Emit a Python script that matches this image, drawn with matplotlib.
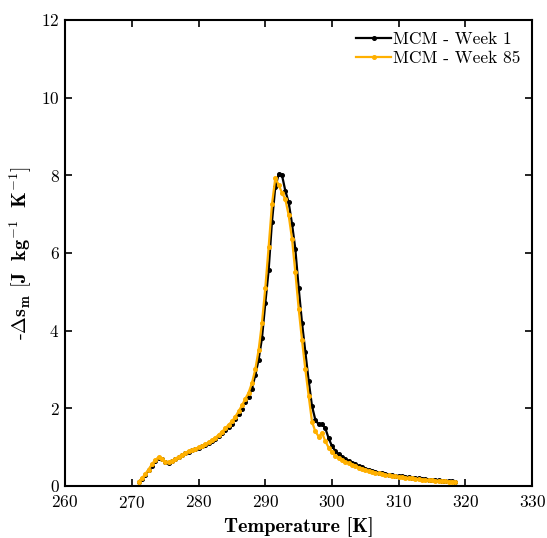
import numpy as np
import matplotlib
matplotlib.use("Agg")
import matplotlib.pyplot as plt

# temperature grid [K]
temperature = [
    271.0, 271.5, 272.0, 272.5, 273.0, 273.5, 274.0, 274.5, 275.0, 275.5,
    276.0, 276.5, 277.0, 277.5, 278.0, 278.5, 279.0, 279.5, 280.0, 280.5,
    281.0, 281.5, 282.0, 282.5, 283.0, 283.5, 284.0, 284.5, 285.0, 285.5,
    286.0, 286.5, 287.0, 287.5, 288.0, 288.5, 289.0, 289.5, 290.0, 290.5,
    291.0, 291.5, 292.0, 292.5, 293.0, 293.5, 294.0, 294.5, 295.0, 295.5,
    296.0, 296.5, 297.0, 297.5, 298.0, 298.5, 299.0, 299.5, 300.0, 300.5,
    301.0, 301.5, 302.0, 302.5, 303.0, 303.5, 304.0, 304.5, 305.0, 305.5,
    306.0, 306.5, 307.0, 307.5, 308.0, 308.5, 309.0, 309.5, 310.0, 310.5,
    311.0, 311.5, 312.0, 312.5, 313.0, 313.5, 314.0, 314.5, 315.0, 315.5,
    316.0, 316.5, 317.0, 317.5, 318.0, 318.5,
]

# -delta s_m, week 1
week1 = [
    0.10, 0.18, 0.28, 0.40, 0.52, 0.65, 0.72, 0.68, 0.62, 0.60,
    0.63, 0.68, 0.74, 0.79, 0.84, 0.88, 0.92, 0.95, 0.98, 1.02,
    1.05, 1.10, 1.15, 1.21, 1.28, 1.36, 1.44, 1.52, 1.60, 1.72,
    1.85, 1.99, 2.15, 2.30, 2.50, 2.85, 3.25, 3.80, 4.70, 5.55,
    6.80, 7.70, 8.02, 8.00, 7.60, 7.30, 6.75, 6.10, 5.10, 4.20,
    3.45, 2.70, 2.05, 1.70, 1.58, 1.59, 1.48, 1.22, 1.02, 0.90,
    0.81, 0.74, 0.68, 0.64, 0.60, 0.55, 0.51, 0.48, 0.44, 0.41,
    0.38, 0.36, 0.34, 0.32, 0.30, 0.29, 0.27, 0.26, 0.25, 0.24,
    0.23, 0.22, 0.21, 0.20, 0.19, 0.18, 0.17, 0.16, 0.15, 0.15,
    0.14, 0.13, 0.13, 0.12, 0.12, 0.11,
]

# -delta s_m, week 85
week85 = [
    0.11, 0.19, 0.30, 0.42, 0.55, 0.67, 0.73, 0.68, 0.62, 0.61,
    0.64, 0.69, 0.75, 0.80, 0.85, 0.89, 0.93, 0.96, 0.99, 1.03,
    1.07, 1.12, 1.17, 1.24, 1.31, 1.39, 1.48, 1.57, 1.66, 1.78,
    1.92, 2.07, 2.24, 2.40, 2.65, 3.00, 3.50, 4.20, 5.10, 6.15,
    7.25, 7.93, 7.75, 7.55, 7.38, 6.97, 6.36, 5.50, 4.56, 3.75,
    3.00, 2.31, 1.65, 1.40, 1.27, 1.36, 1.15, 0.98, 0.86, 0.78,
    0.72, 0.67, 0.62, 0.58, 0.54, 0.51, 0.47, 0.44, 0.41, 0.38,
    0.36, 0.34, 0.32, 0.30, 0.28, 0.27, 0.25, 0.24, 0.23, 0.22,
    0.21, 0.20, 0.19, 0.18, 0.17, 0.16, 0.15, 0.15, 0.14, 0.13,
    0.13, 0.12, 0.12, 0.11, 0.11, 0.10,
]

plt.rcParams['font.family'] = 'serif'
plt.rcParams['font.serif'] = ['cmr10']
plt.rcParams['mathtext.fontset'] = 'cm'
plt.rcParams['axes.formatter.use_mathtext'] = True

fig = plt.figure(figsize=(5.47, 5.38), dpi=100)
ax = fig.add_axes([0.119, 0.097, 0.854, 0.866])

ax.plot(temperature, week1, color='black', lw=1.6, marker='o', ms=2.6,
        label='MCM - Week 1', zorder=2)
ax.plot(temperature, week85, color='#FFB000', lw=1.6, marker='o', ms=2.6,
        label='MCM - Week 85', zorder=3)

ax.set_xlim(260, 330)
ax.set_ylim(0, 12)
ax.set_xticks(np.arange(260, 331, 10))
ax.set_yticks(np.arange(0, 13, 2))
ax.tick_params(direction='in', top=True, right=True, length=5, width=1.2,
               labelsize=12.5)
ax.tick_params(axis='x', pad=6)
ax.tick_params(axis='y', pad=4)
for s in ax.spines.values():
    s.set_linewidth(1.5)

ax.set_xlabel('Temperature [K]', family='cmb10', fontsize=14.5, labelpad=4)
ax.set_ylabel(r'-$\mathbf{\Delta s_m}$ $\mathbf{[J\ \ kg^{-1}\ \ K^{-1}]}$',
              fontsize=14.5, labelpad=5)

ax.legend(loc='upper right', frameon=False, fontsize=12.5, handlelength=2.0,
          handletextpad=0.1, borderaxespad=0.3, labelspacing=0.2)

fig.savefig('out.png', dpi=100)
